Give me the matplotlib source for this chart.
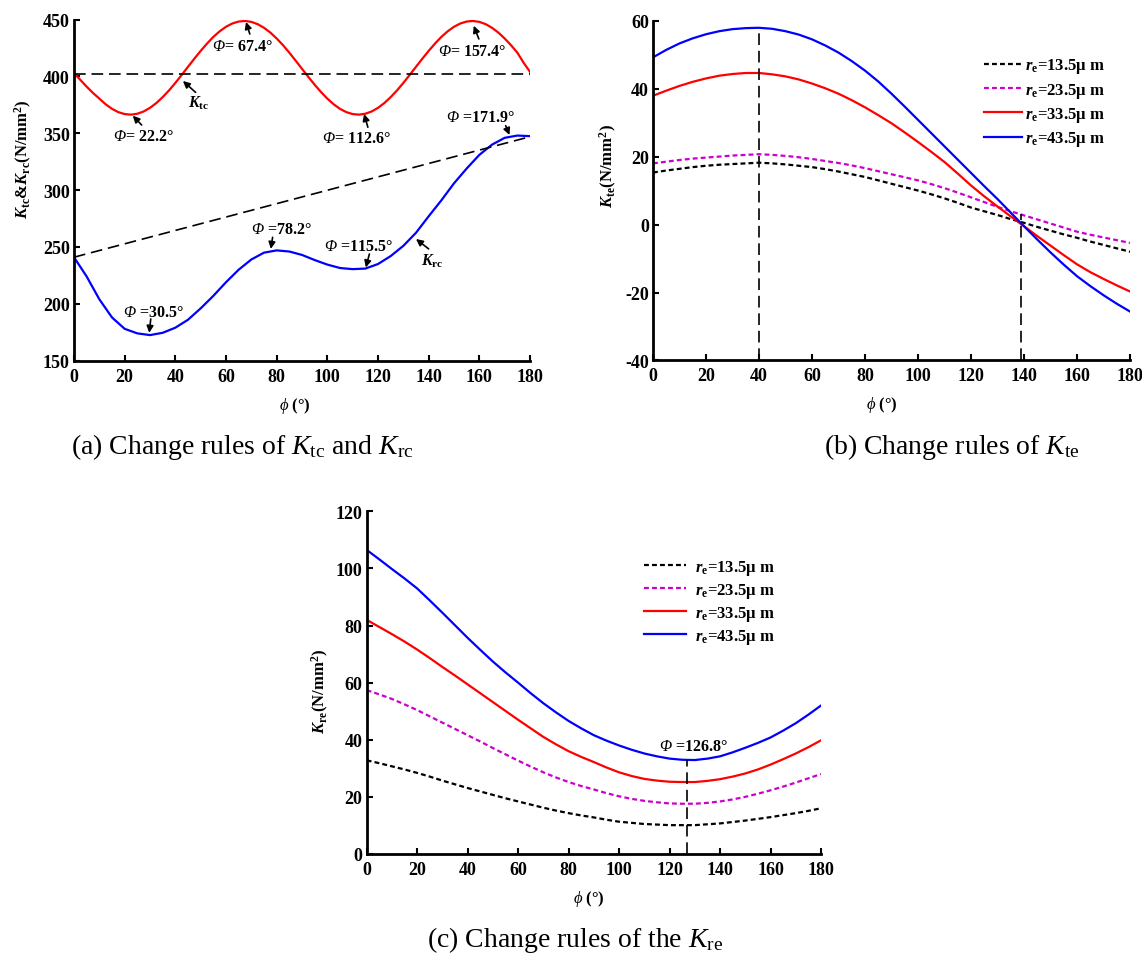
import numpy as np
import matplotlib
matplotlib.use('Agg')
import matplotlib.pyplot as plt

plt.rcParams['font.family'] = ['Liberation Serif', 'DejaVu Serif']
plt.rcParams['mathtext.fontset'] = 'custom'
plt.rcParams['mathtext.rm'] = 'Liberation Serif'
plt.rcParams['mathtext.it'] = 'Liberation Serif:italic'
plt.rcParams['mathtext.bf'] = 'Liberation Serif:bold'
plt.rcParams['mathtext.bfit'] = 'Liberation Serif:bold:italic'
plt.rcParams['mathtext.cal'] = 'Liberation Serif:italic'  # used for the slanted capital Phi
plt.rcParams['axes.unicode_minus'] = False

# ---- data ----
# panel (a): K_tc every 2.5 deg, K_rc every 5 deg
phi_tc = [i * 2.5 for i in range(73)]
k_tc = [403, 397, 391, 385.5, 380.5, 375.5, 371.5, 368.6, 366.9, 366.4,
        367.2, 369.2, 372.4, 376.6, 381.8, 387.7, 394.3, 401.3, 408.5, 415.6,
        422.5, 428.9, 434.8, 439.7, 443.7, 446.6, 448.3, 448.8, 448.0, 446.0,
        442.8, 438.6, 433.4, 427.5, 420.9, 413.9, 406.7, 399.6, 392.7, 386.3,
        380.5, 375.5, 371.5, 368.6, 366.9, 366.4, 367.2, 369.2, 372.4, 376.6,
        381.8, 387.7, 394.3, 401.3, 408.5, 415.6, 422.5, 428.9, 434.8, 439.7,
        443.7, 446.6, 448.3, 448.8, 448.0, 446.0, 442.8, 438.6, 433.4, 427.5,
        420.9, 412, 404]
phi_rc = list(range(0, 181, 5))
k_rc = [241, 224, 204, 188, 178, 174, 172.5, 174.5, 179, 186,
        196, 207, 219, 230, 239, 245, 247, 246, 243,
        238.5, 234.5, 231.5, 230.5, 231, 235, 242, 251, 262.5,
        277, 291, 306, 319, 331, 340, 346, 348, 347.5]
tc_ref_phi = [0, 180]
tc_ref = [402, 402]
rc_ref_phi = [0, 180]
rc_ref = [241, 347]

# panels (b) and (c): four edge radii, 5 degree steps
phi_bc = list(range(0, 181, 5))
radius_labels = ['13.5', '23.5', '33.5', '43.5']

k_te_135 = [15.3, 15.9, 16.4, 16.9, 17.3, 17.6, 17.8, 18.0, 18.2, 18.0,
            17.7, 17.3, 16.9, 16.3, 15.6, 14.8, 14.0, 13.0, 12.0, 11.0,
            10.0, 8.9, 7.7, 6.4, 5.0, 3.9, 2.8, 1.6, 0.5, -0.7,
            -1.8, -2.9, -3.9, -5.0, -6.0, -7.0, -8.0]
k_te_235 = [18.0, 18.5, 19.0, 19.4, 19.7, 20.0, 20.3, 20.5, 20.7, 20.5,
            20.2, 19.8, 19.3, 18.7, 18.1, 17.4, 16.6, 15.7, 14.8, 13.9,
            13.0, 11.9, 10.7, 9.4, 8.0, 6.6, 5.2, 3.9, 2.7, 1.5,
            0.3, -0.9, -2.1, -3.0, -3.8, -4.6, -5.4]
k_te_335 = [37.9, 39.4, 40.8, 42.0, 43.0, 43.8, 44.3, 44.6, 44.6, 44.2,
            43.6, 42.7, 41.5, 40.1, 38.5, 36.6, 34.5, 32.2, 29.8, 27.1,
            24.3, 21.4, 18.4, 15.0, 11.5, 8.3, 5.3, 2.4, -0.5, -3.4,
            -6.2, -9.0, -11.7, -14.0, -16.0, -17.9, -19.7]
k_te_435 = [49.2, 51.4, 53.3, 54.8, 56.0, 56.9, 57.5, 57.8, 57.9, 57.6,
            56.9, 55.9, 54.5, 52.7, 50.6, 48.1, 45.3, 42.1, 38.5, 34.7,
            30.8, 26.9, 23.0, 19.1, 15.2, 11.3, 7.5, 3.5, -0.5, -4.4,
            -8.2, -11.8, -15.2, -18.1, -20.8, -23.3, -25.6]

k_re_135 = [32.8, 31.8, 30.7, 29.6, 28.4, 27.1, 25.7, 24.4, 23.1, 21.9,
            20.7, 19.5, 18.4, 17.3, 16.2, 15.2, 14.3, 13.5, 12.8, 12.0,
            11.3, 10.9, 10.5, 10.3, 10.1, 10.1, 10.1, 10.4, 10.7, 11.2,
            11.7, 12.3, 12.9, 13.6, 14.3, 15.1, 16.0]
k_re_235 = [57.4, 55.9, 54.3, 52.4, 50.4, 48.2, 46.0, 43.8, 41.6, 39.4,
            37.1, 34.9, 32.7, 30.6, 28.6, 26.8, 25.2, 23.8, 22.6, 21.3,
            20.2, 19.3, 18.6, 18.1, 17.7, 17.6, 17.6, 17.9, 18.4, 19.1,
            20.0, 21.1, 22.3, 23.6, 25.0, 26.5, 28.0]
k_re_335 = [82.0, 79.5, 77.0, 74.4, 71.6, 68.6, 65.5, 62.5, 59.4, 56.3,
            53.2, 50.1, 47.0, 44.0, 41.0, 38.4, 36.0, 34.0, 32.2, 30.3,
            28.6, 27.3, 26.3, 25.7, 25.3, 25.2, 25.2, 25.6, 26.2, 27.1,
            28.2, 29.6, 31.3, 33.2, 35.2, 37.4, 39.8]
k_re_435 = [106.5, 103.2, 99.8, 96.5, 93.0, 88.8, 84.5, 80.1, 75.7, 71.5,
            67.4, 63.6, 60.0, 56.3, 52.8, 49.6, 46.6, 44.0, 41.6, 39.7,
            38.0, 36.5, 35.2, 34.2, 33.4, 33.0, 32.9, 33.4, 34.2, 35.6,
            37.2, 38.9, 40.8, 43.2, 45.8, 48.8, 52.0]

te_peak_phi, te_peak_val = 40, 57.9
te_cross_phi, te_cross_val = 139, 3
re_min_phi, re_min_val = 126.8, 32.8

styles = [dict(color='black', ls=(0, (2.2, 1.4))),
          dict(color='#cc00cc', ls=(0, (2.2, 1.4))),
          dict(color='red', ls='-'),
          dict(color='blue', ls='-')]

lab_font = dict(fontsize=12, fontweight='bold')
ann_font = dict(fontsize=11.5, fontweight='bold')


def style_axes(ax, ylim, yticks, xlab_x, ylab_x, ylab_y):
    ax.set_xlim(0, 180)
    ax.set_ylim(*ylim)
    ax.set_xticks(range(0, 181, 20))
    ax.set_yticks(yticks)
    for s in ['top', 'right']:
        ax.spines[s].set_visible(False)
    for s in ['left', 'bottom']:
        ax.spines[s].set_linewidth(2)
    ax.tick_params(direction='in', length=4, width=1.5, pad=3)
    ax.tick_params(axis='x', pad=5)
    for lbl in ax.get_xticklabels() + ax.get_yticklabels():
        lbl.set_fontsize(13)
        lbl.set_fontweight('bold')
    ax.set_xlabel(r'$\mathit{\phi}$ (°)', **lab_font)
    ax.xaxis.set_label_coords(xlab_x, -0.10)
    ax.yaxis.set_label_coords(ylab_x, ylab_y)


def dashed(ax, x, y):
    ax.plot(x, y, color='black', lw=1.2, dashes=(7, 3.5))


def note(ax, text, txy, tail, head):
    ax.text(txy[0], txy[1], text, ha='center', va='center', **ann_font)
    ax.annotate('', xy=head, xytext=tail,
                arrowprops=dict(arrowstyle='-|>', color='black', lw=1.2,
                                mutation_scale=10, shrinkA=0, shrinkB=0))


fig = plt.figure(figsize=(11.42, 9.54), dpi=100)

# (a)
ax1 = fig.add_axes([0.0648, 0.6209, 0.3993, 0.3575])
ax1.plot(phi_tc, k_tc, color='red', lw=1.6)
ax1.plot(phi_rc, k_rc, color='blue', lw=1.6)
dashed(ax1, tc_ref_phi, tc_ref)
dashed(ax1, rc_ref_phi, rc_ref)
ax1.set_ylabel(r'$\mathbfit{K}_{\mathbf{tc}}$&$\mathbfit{K}_{\mathbf{rc}}$(N/mm$^{\mathbf{2}}$)', **lab_font)
style_axes(ax1, (150, 450), range(150, 451, 50), 0.485, -0.088, 0.594)
P = r'$\mathcal{Φ}$'
note(ax1, P + '= 67.4°', (66.3, 427), (69.4, 437.3), (67.9, 447.9))
note(ax1, P + '= 157.4°', (157, 422.6), (159.8, 433), (157.8, 444.6))
note(ax1, P + '= 22.2°', (27.5, 347.9), (26.7, 357.3), (23.2, 365.5))
note(ax1, P + '= 112.6°', (111.6, 345.6), (116, 355.3), (114.5, 367))
note(ax1, P + ' =171.9°', (160.5, 364), (170.4, 356.7), (171.9, 348.5))
note(ax1, P + ' =78.2°', (82, 265.8), (78.4, 258.5), (77.7, 248.3))
note(ax1, P + ' =115.5°', (112.4, 251), (116.6, 243.8), (115.2, 232))
note(ax1, P + ' =30.5°', (31.3, 192.6), (30.3, 186.7), (29.7, 174.5))
note(ax1, r'$\mathbfit{K}_{\mathbf{tc}}$', (49.4, 377.5), (48, 386), (43, 396))
note(ax1, r'$\mathbfit{K}_{\mathbf{rc}}$', (141.4, 238), (140, 248.3), (135, 257))

# (b)
ax2 = fig.add_axes([0.5718, 0.6211, 0.4177, 0.3562])
for vals, st, r in zip([k_te_135, k_te_235, k_te_335, k_te_435], styles, radius_labels):
    ax2.plot(phi_bc, vals, lw=1.6, label=r'$\mathbfit{r}_{\mathbf{e}}$=' + r + 'μ m', **st)
dashed(ax2, [te_peak_phi, te_peak_phi], [-40, te_peak_val])
dashed(ax2, [te_cross_phi, te_cross_phi], [-40, te_cross_val])
ax2.set_ylabel(r'$\mathbfit{K}_{\mathbf{te}}$(N/mm$^{\mathbf{2}}$)', **lab_font)
style_axes(ax2, (-40, 60), range(-40, 61, 20), 0.48, -0.072, 0.575)
ax2.legend(loc='upper left', bbox_to_anchor=(0.694, 0.895), frameon=False,
           prop=dict(size=12, weight='bold'), handlelength=2.3,
           handletextpad=0.15, labelspacing=0.32, borderpad=0, borderaxespad=0)

# (c)
ax3 = fig.add_axes([0.3211, 0.1038, 0.3978, 0.3591])
for vals, st, r in zip([k_re_135, k_re_235, k_re_335, k_re_435], styles, radius_labels):
    ax3.plot(phi_bc, vals, lw=1.6, label=r'$\mathbfit{r}_{\mathbf{e}}$=' + r + 'μ m', **st)
dashed(ax3, [re_min_phi, re_min_phi], [0, re_min_val])
ax3.set_ylabel(r'$\mathbfit{K}_{\mathbf{re}}$(N/mm$^{\mathbf{2}}$)', **lab_font)
style_axes(ax3, (0, 120), range(0, 121, 20), 0.49, -0.079, 0.476)
ax3.text(129.3, 37.9, P + ' =126.8°', ha='center', va='center', **ann_font)
ax3.legend(loc='upper left', bbox_to_anchor=(0.61, 0.865), frameon=False,
           prop=dict(size=12, weight='bold'), handlelength=2.55,
           handletextpad=0.55, labelspacing=0.25, borderpad=0, borderaxespad=0)

# captions
cap = dict(fontsize=20, ha='center', va='center')
fig.text(242 / 1142, 1 - 447 / 954,
         r'(a) Change rules of $\mathit{K}_{\mathrm{tc}}$ and $\mathit{K}_{\mathrm{rc}}$', **cap)
fig.text(952 / 1142, 1 - 447 / 954, r'(b) Change rules of $\mathit{K}_{\mathrm{te}}$', **cap)
fig.text(575 / 1142, 1 - 940 / 954, r'(c) Change rules of the $\mathit{K}_{\mathrm{re}}$', **cap)

fig.savefig('out.png', dpi=100)
